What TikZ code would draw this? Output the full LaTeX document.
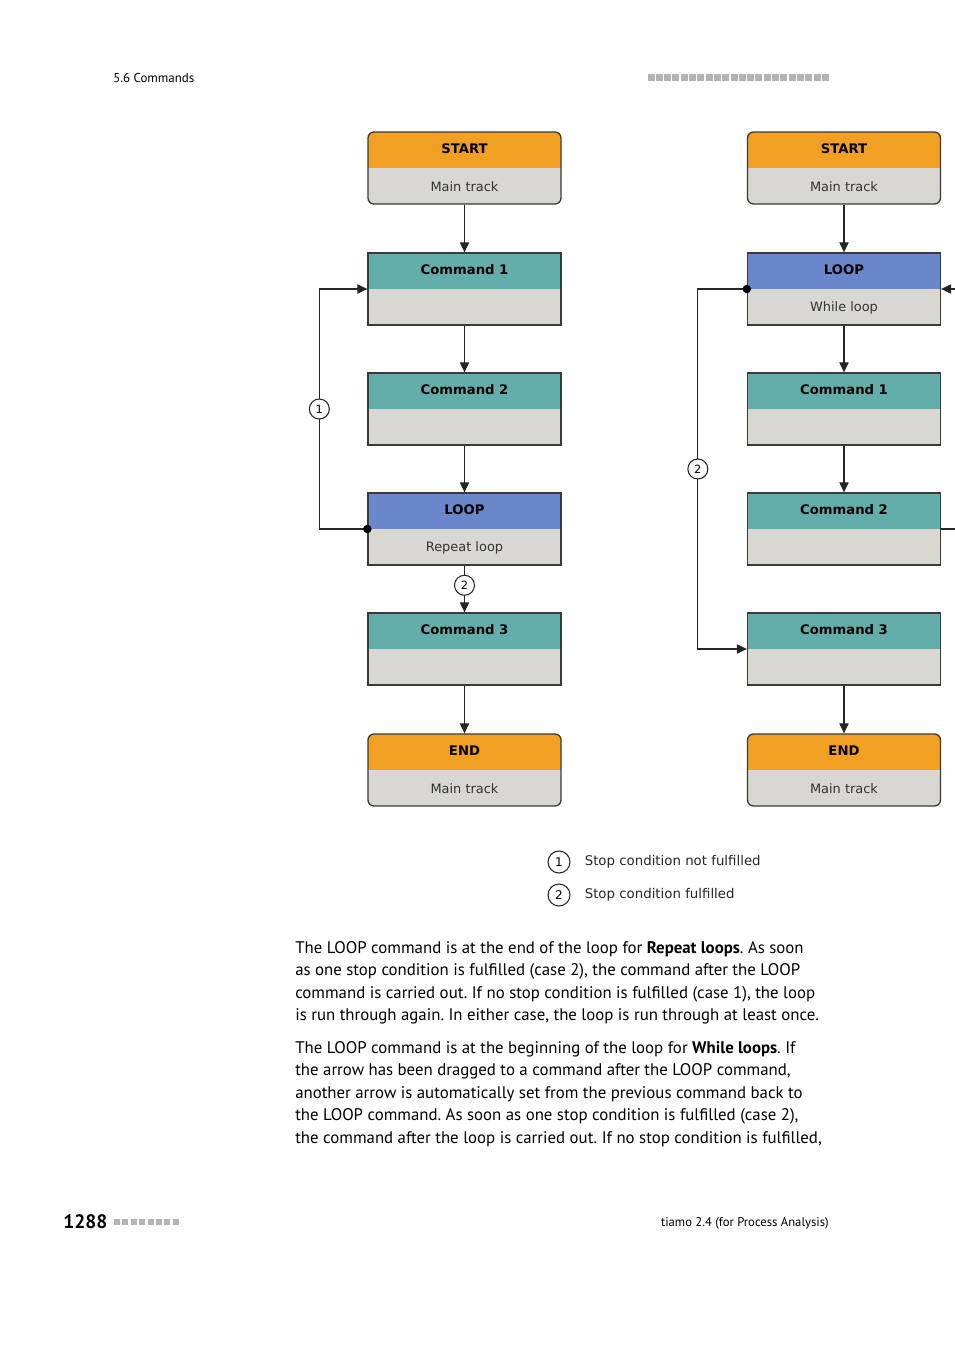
\documentclass[tikz,border=0pt]{standalone}
\usepackage{fontspec}
\setmainfont{PT Sans}
\newfontfamily\boxfont{DejaVu Sans}
\usetikzlibrary{arrows.meta, positioning, calc}
\definecolor{stepOrange}{HTML}{F2A023}
\definecolor{cmdTeal}{HTML}{63AEAB}
\definecolor{loopBlue}{HTML}{6A87CB}
\definecolor{boxGrey}{HTML}{D8D7D1}
\definecolor{edgeGrey}{HTML}{3A3A3A}
\definecolor{sqGrey}{HTML}{B4B4B4}
\frenchspacing

\tikzset{
  blk/.style={draw=edgeGrey, line width=1pt, fill=boxGrey, minimum width=144.75pt,
    minimum height=54pt, inner sep=0pt,
    path picture={\fill[#1, sharp corners] (path picture bounding box.north west)
      rectangle (path picture bounding box.east);}},
  ends/.style={blk=#1, rounded corners=4.5pt},
  ttl/.style={font=\boxfont\bfseries\fontsize{9.9}{11}\selectfont, text=black},
  sub/.style={font=\boxfont\fontsize{9.7}{11}\selectfont, text=black!80},
  link/.style={line width=0.8pt, draw=black!85},
  arr/.style={link, -{Triangle[length=7.5pt,width=7pt]}},
  num/.style={circle, draw=black!85, line width=0.8pt, fill=white, minimum size=15pt,
    inner sep=0pt, font=\boxfont\fontsize{8.5}{9}\selectfont},
  key/.style={font=\boxfont\fontsize{10}{12}\selectfont, inner sep=0pt, text=black!85},
  body/.style={anchor=base west, inner sep=0pt, font=\fontsize{12.6}{14}\selectfont},
  sq/.style={fill=sqGrey}
}

\begin{document}
\begin{tikzpicture}[x=0.75pt, y=-0.75pt]
	\useasboundingbox (0,0) rectangle (954,1350);
	% Header
	\node[anchor=west, inner sep=0pt, font=\fontsize{9.7}{11}\selectfont] (hd) at (113,78) {5.6 Commands};
	\foreach \i in {0,...,21}
		\fill[sq] (647.5+8.3*\i,73.5) rectangle ++(7,7);
	% Repeat loop (left)
	\node[ends=stepOrange] (ls) at (464.5,168) {};
	\node[ttl] at ($(ls.north)+(0,17.5)$) {START};
	\node[sub] at ($(ls.south)+(0,-18)$) {Main track};
	\node[blk=cmdTeal] (l1) at (464.5,289) {};
	\node[ttl] at ($(l1.north)+(0,17.5)$) {Command 1};
	\node[blk=cmdTeal] (l2) at (464.5,409) {};
	\node[ttl] at ($(l2.north)+(0,17.5)$) {Command 2};
	\node[blk=loopBlue] (lp) at (464.5,529) {};
	\node[ttl] at ($(lp.north)+(0,17.5)$) {LOOP};
	\node[sub] at ($(lp.south)+(0,-18)$) {Repeat loop};
	\node[blk=cmdTeal] (l3) at (464.5,649) {};
	\node[ttl] at ($(l3.north)+(0,17.5)$) {Command 3};
	\node[ends=stepOrange] (le) at (464.5,770) {};
	\node[ttl] at ($(le.north)+(0,17.5)$) {END};
	\node[sub] at ($(le.south)+(0,-18)$) {Main track};
	\draw[arr] (ls) -- (l1);
	\draw[arr] (l1) -- (l2);
	\draw[arr] (l2) -- (lp);
	\draw[arr] (lp) -- node[num, pos=0.42] (lc2) {2} (l3);
	\draw[arr] (l3) -- (le);
	\draw[arr] (lp.west) -- ++(-48,0) |- node[num, pos=0.25] (lc1) {1} (l1.west);
	\fill[black] (lp.west) circle (3.2pt);
	% While loop (right)
	\node[ends=stepOrange] (rs) at (844,168) {};
	\node[ttl] at ($(rs.north)+(0,17.5)$) {START};
	\node[sub] at ($(rs.south)+(0,-18)$) {Main track};
	\node[blk=loopBlue] (rl) at (844,289) {};
	\node[ttl] at ($(rl.north)+(0,17.5)$) {LOOP};
	\node[sub] at ($(rl.south)+(0,-18)$) {While loop};
	\node[blk=cmdTeal] (r1) at (844,409) {};
	\node[ttl] at ($(r1.north)+(0,17.5)$) {Command 1};
	\node[blk=cmdTeal] (r2) at (844,529) {};
	\node[ttl] at ($(r2.north)+(0,17.5)$) {Command 2};
	\node[blk=cmdTeal] (r3) at (844,649) {};
	\node[ttl] at ($(r3.north)+(0,17.5)$) {Command 3};
	\node[ends=stepOrange] (re) at (844,770) {};
	\node[ttl] at ($(re.north)+(0,17.5)$) {END};
	\node[sub] at ($(re.south)+(0,-18)$) {Main track};
	\coordinate (rin) at (962,289);
	\coordinate (rout) at (962,529);
	\draw[arr] (rs) -- (rl);
	\draw[arr] (rl) -- (r1);
	\draw[arr] (r1) -- (r2);
	\draw[arr] (r3) -- (re);
	\draw[arr] (rin) -- (rl.east);
	\draw[link] (r2.east) -- (rout);
	\draw[arr] (rl.west) -- ++(-49,0) |- node[num, pos=0.25] (rc2) {2} (r3.west);
	\fill[black] (rl.west) circle (3.2pt);
	% Legend
	\node[num, minimum size=16.5pt, font=\boxfont\fontsize{9}{10}\selectfont] (k1) at (559,862) {1};
	\node[key, right=10.5pt of k1] {Stop condition not fulfilled};
	\node[num, minimum size=16.5pt, font=\boxfont\fontsize{9}{10}\selectfont] (k2) at (559,895) {2};
	\node[key, right=10.5pt of k2] {Stop condition fulfilled};
	% Text
	\foreach \t [count=\i from 0] in {
		{The LOOP command is at the end of the loop for \textbf{Repeat loops}. As soon},
		{as one stop condition is fulfilled (case 2), the command after the LOOP},
		{command is carried out. If no stop condition is fulfilled (case 1), the loop},
		{is run through again. In either case, the loop is run through at least once.}}
		\node[body] at (295,{953+22.5*\i}) {\t};
	\foreach \t [count=\i from 0] in {
		{The LOOP command is at the beginning of the loop for \textbf{While loops}. If},
		{the arrow has been dragged to a command after the LOOP command,},
		{another arrow is automatically set from the previous command back to},
		{the LOOP command. As soon as one stop condition is fulfilled (case 2),},
		{the command after the loop is carried out. If no stop condition is fulfilled,}}
		\node[body] at (295,{1053+22.5*\i}) {\t};
	% Footer
	\node[anchor=west, inner sep=0pt, font=\bfseries\fontsize{14.6}{16}\selectfont] (pg) at (63,1222) {1288};
	\foreach \i in {0,...,7}
		\fill[sq] (114+8.4*\i,1218.5) rectangle ++(6,6);
	\node[anchor=east, inner sep=0pt, font=\fontsize{9.5}{11}\selectfont] (ft) at (829,1223) {tiamo 2.4 (for Process Analysis)};
\end{tikzpicture}
\end{document}
